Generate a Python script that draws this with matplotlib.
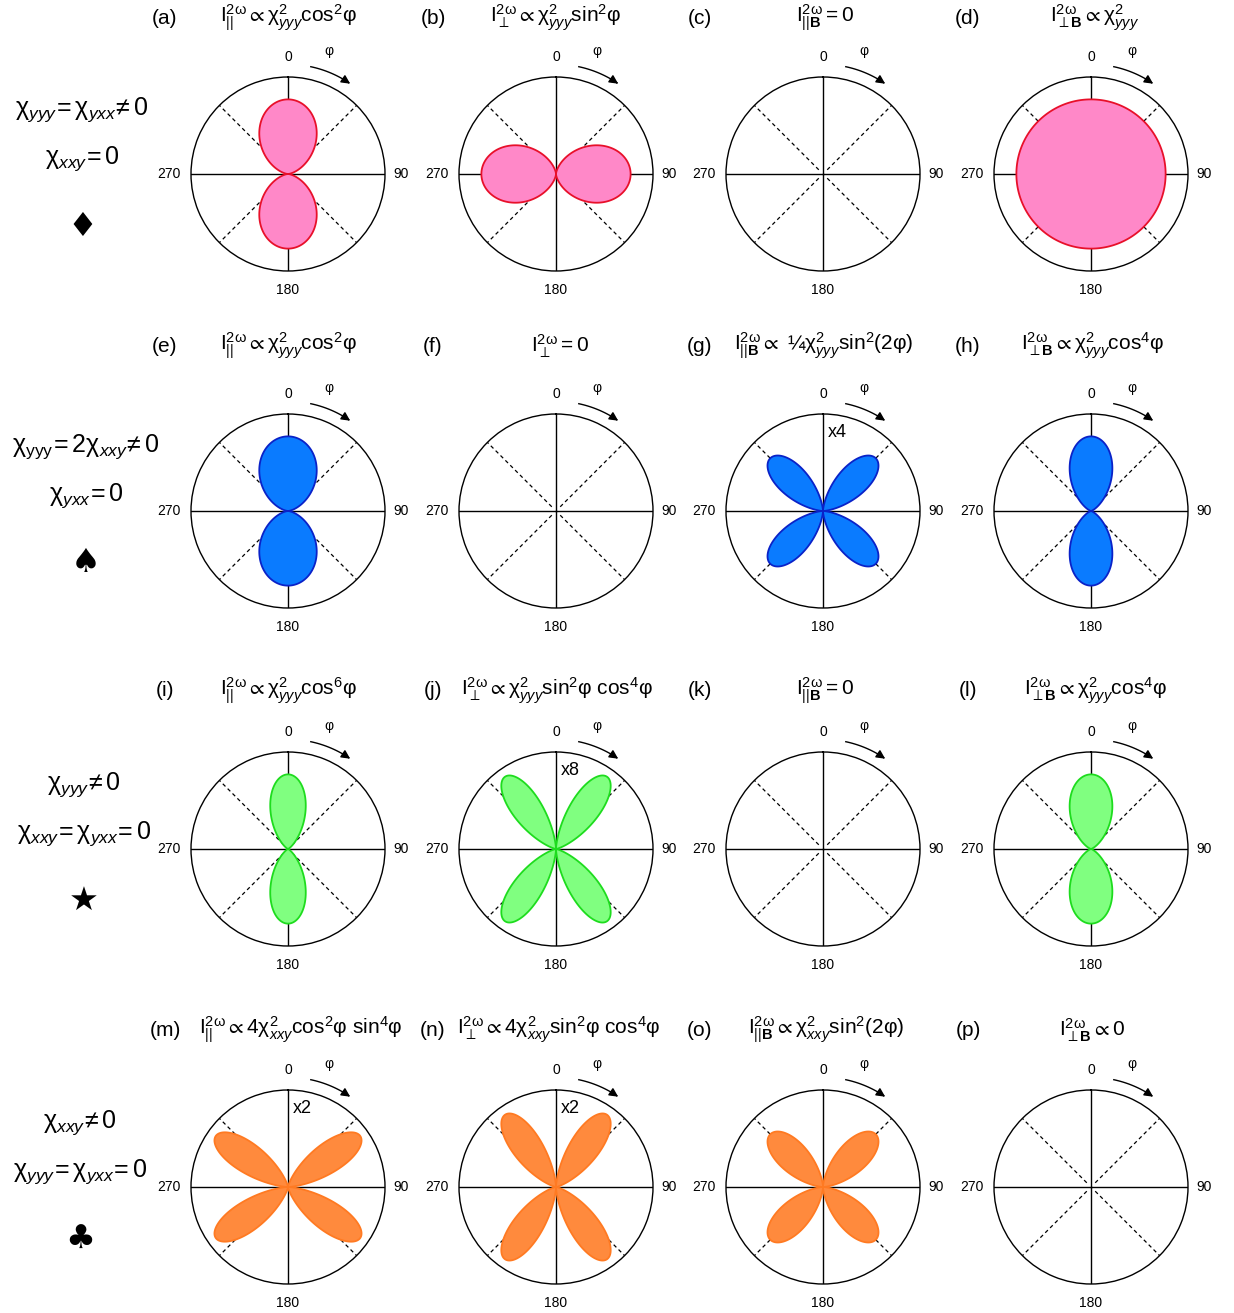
import numpy as np
import matplotlib
matplotlib.use('Agg')
import matplotlib.pyplot as plt

plt.rcParams['font.family'] = ['Liberation Sans', 'DejaVu Sans']
plt.rcParams['mathtext.fontset'] = 'custom'
plt.rcParams['mathtext.rm'] = 'Liberation Sans'
plt.rcParams['mathtext.it'] = 'Liberation Sans:italic'
plt.rcParams['mathtext.bf'] = 'Liberation Sans:bold'
plt.rcParams['mathtext.fallback'] = 'stix'

# panel data: r(phi) = coef * mag * cos^a * sin^b  (coef 0 -> no signal)
panel_labels = list('abcdefghijklmnop')
cos_pow = [2, 0, 0, 0,  2, 0, 2, 4,  6, 4, 0, 4,  2, 4, 2, 0]
sin_pow = [0, 2, 0, 0,  0, 0, 2, 0,  0, 2, 0, 0,  4, 2, 2, 0]
coef    = [1, 1, 0, 1,  1, 0, 1, 1,  1, 1, 0, 1,  4, 4, 4, 0]
mag     = [1, 1, 1, 1,  1, 1, 4, 1,  1, 8, 1, 1,  2, 2, 1, 1]

titles = [
    r'$\mathrm{I}^{2\mathrm{ω}}_{||}\propto\mathrm{χ}^{2}_{yyy}\mathrm{cos}^{2}\mathrm{φ}$',
    r'$\mathrm{I}^{2\mathrm{ω}}_{\perp}\propto\mathrm{χ}^{2}_{yyy}\mathrm{sin}^{2}\mathrm{φ}$',
    r'$\mathrm{I}^{2\mathrm{ω}}_{||\mathbf{B}}=0$',
    r'$\mathrm{I}^{2\mathrm{ω}}_{\perp\mathbf{B}}\propto\mathrm{χ}^{2}_{yyy}$',
    r'$\mathrm{I}^{2\mathrm{ω}}_{||}\propto\mathrm{χ}^{2}_{yyy}\mathrm{cos}^{2}\mathrm{φ}$',
    r'$\mathrm{I}^{2\mathrm{ω}}_{\perp}=0$',
    r'$\mathrm{I}^{2\mathrm{ω}}_{||\mathbf{B}}\propto$ ¼$\mathrm{χ}^{2}_{yyy}\mathrm{sin}^{2}(2\mathrm{φ})$',
    r'$\mathrm{I}^{2\mathrm{ω}}_{\perp\mathbf{B}}\propto\mathrm{χ}^{2}_{yyy}\mathrm{cos}^{4}\mathrm{φ}$',
    r'$\mathrm{I}^{2\mathrm{ω}}_{||}\propto\mathrm{χ}^{2}_{yyy}\mathrm{cos}^{6}\mathrm{φ}$',
    r'$\mathrm{I}^{2\mathrm{ω}}_{\perp}\propto\mathrm{χ}^{2}_{yyy}\mathrm{sin}^{2}\mathrm{φ}\ \mathrm{cos}^{4}\mathrm{φ}$',
    r'$\mathrm{I}^{2\mathrm{ω}}_{||\mathbf{B}}=0$',
    r'$\mathrm{I}^{2\mathrm{ω}}_{\perp\mathbf{B}}\propto\mathrm{χ}^{2}_{yyy}\mathrm{cos}^{4}\mathrm{φ}$',
    r'$\mathrm{I}^{2\mathrm{ω}}_{||}\propto4\mathrm{χ}^{2}_{xxy}\mathrm{cos}^{2}\mathrm{φ}\ \mathrm{sin}^{4}\mathrm{φ}$',
    r'$\mathrm{I}^{2\mathrm{ω}}_{\perp}\propto4\mathrm{χ}^{2}_{xxy}\mathrm{sin}^{2}\mathrm{φ}\ \mathrm{cos}^{4}\mathrm{φ}$',
    r'$\mathrm{I}^{2\mathrm{ω}}_{||\mathbf{B}}\propto\mathrm{χ}^{2}_{xxy}\mathrm{sin}^{2}(2\mathrm{φ})$',
    r'$\mathrm{I}^{2\mathrm{ω}}_{\perp\mathbf{B}}\propto0$',
]
title_dx = [0, 0, 2, 4,  0, 4, 1, 1,  0, 1, 2, 4,  13, 3, 3, 1]

row_text1 = [r'$\mathrm{χ}_{yyy}\!=\mathrm{χ}_{yxx}\!\neq0$', r'$\mathrm{χ}_{\mathrm{yyy}}\!=2\mathrm{χ}_{xxy}\!\neq0$',
             r'$\mathrm{χ}_{yyy}\!\neq0$', r'$\mathrm{χ}_{xxy}\!\neq0$']
row_text2 = [r'$\mathrm{χ}_{xxy}\!=0$', r'$\mathrm{χ}_{yxx}\!=0$',
             r'$\mathrm{χ}_{xxy}\!=\mathrm{χ}_{yxx}\!=0$', r'$\mathrm{χ}_{yyy}\!=\mathrm{χ}_{yxx}\!=0$']
row_symbols = ['♦', '♠', '★', '♣']
row_face = ['#ff88c8', '#0a7bff', '#80ff80', '#ff8a3d']
row_edge = ['#e8102a', '#0a22c8', '#1edc1e', '#ff7a22']

W, H = 1234, 1313
col_x = [288, 556, 823, 1091]
row_y = [174, 511, 849, 1187]
title_y = [18, 346, 691, 1030]
R = 97
RMAX = 1.3

fig = plt.figure(figsize=(W / 100, H / 100), dpi=100)
phi = np.linspace(0, 2 * np.pi, 721)

for k in range(16):
    i, j = divmod(k, 4)
    cx, cy = col_x[j], row_y[i]
    ax = fig.add_axes([(cx - R) / W, (H - cy - R) / H, 2 * R / W, 2 * R / H],
                      projection='polar')
    ax.set_theta_zero_location('N')
    ax.set_theta_direction(-1)
    ax.set_ylim(0, RMAX)
    ax.set_xticks([])
    ax.set_yticks([])
    ax.grid(False)
    ax.spines['polar'].set_linewidth(1.0)

    for a in [0, 90, 180, 270]:
        ax.plot([np.radians(a)] * 2, [0, RMAX], color='black', lw=1.0, zorder=2)
    for a in [45, 135, 225, 315]:
        ax.plot([np.radians(a)] * 2, [0.08, RMAX], color='black', lw=0.9,
                ls=(0, (3, 2.5)), zorder=2)

    if coef[k] != 0:
        r = coef[k] * mag[k] * np.abs(np.cos(phi)) ** cos_pow[k] * np.abs(np.sin(phi)) ** sin_pow[k]
        ax.fill(phi, r, facecolor=row_face[i], edgecolor=row_edge[i], linewidth=1.3, zorder=3)

    ax.text(0, 1.57, '0', ha='center', va='center', fontsize=10)
    ax.text(np.pi / 2, 1.52, '90', ha='center', va='center', fontsize=10)
    ax.text(np.pi, 1.55, '180', ha='center', va='center', fontsize=10)
    ax.text(3 * np.pi / 2, 1.60, '270', ha='center', va='center', fontsize=10)

    # rotation arrow
    arc = np.radians(np.linspace(12, 33, 30))
    ax.plot(arc, np.full_like(arc, 1.47), color='black', lw=1.0, clip_on=False)
    ax.annotate('', xy=(np.radians(36), 1.47), xytext=(np.radians(32), 1.47),
                arrowprops=dict(arrowstyle='-|>', color='black', lw=1.0, mutation_scale=13),
                annotation_clip=False)
    ax.text(np.radians(18.5), 1.74, 'φ', ha='center', va='center', fontsize=10)

    if mag[k] != 1:
        ax.text(np.radians(10), 1.07, 'x%d' % mag[k], ha='center', va='center',
                fontsize=13, zorder=5)

    fig.text((cx - 123) / W, 1 - title_y[i] / H, '(%s)' % panel_labels[k],
             ha='center', va='center', fontsize=15)
    fig.text((cx + title_dx[k]) / W, 1 - title_y[i] / H, titles[k],
             ha='center', va='center', fontsize=15)

label_x = [82, 86, 84, 80]
for i in range(4):
    cy = row_y[i]
    fig.text(label_x[i] / W, 1 - (cy - 64) / H, row_text1[i], ha='center', va='center', fontsize=18)
    fig.text(label_x[i] / W, 1 - (cy - 15) / H, row_text2[i], ha='center', va='center', fontsize=18)
    fig.text(label_x[i] / W, 1 - (cy + 52) / H, row_symbols[i], ha='center', va='center',
             fontsize=24, family=['DejaVu Sans'])

fig.savefig('out.png', dpi=100)
